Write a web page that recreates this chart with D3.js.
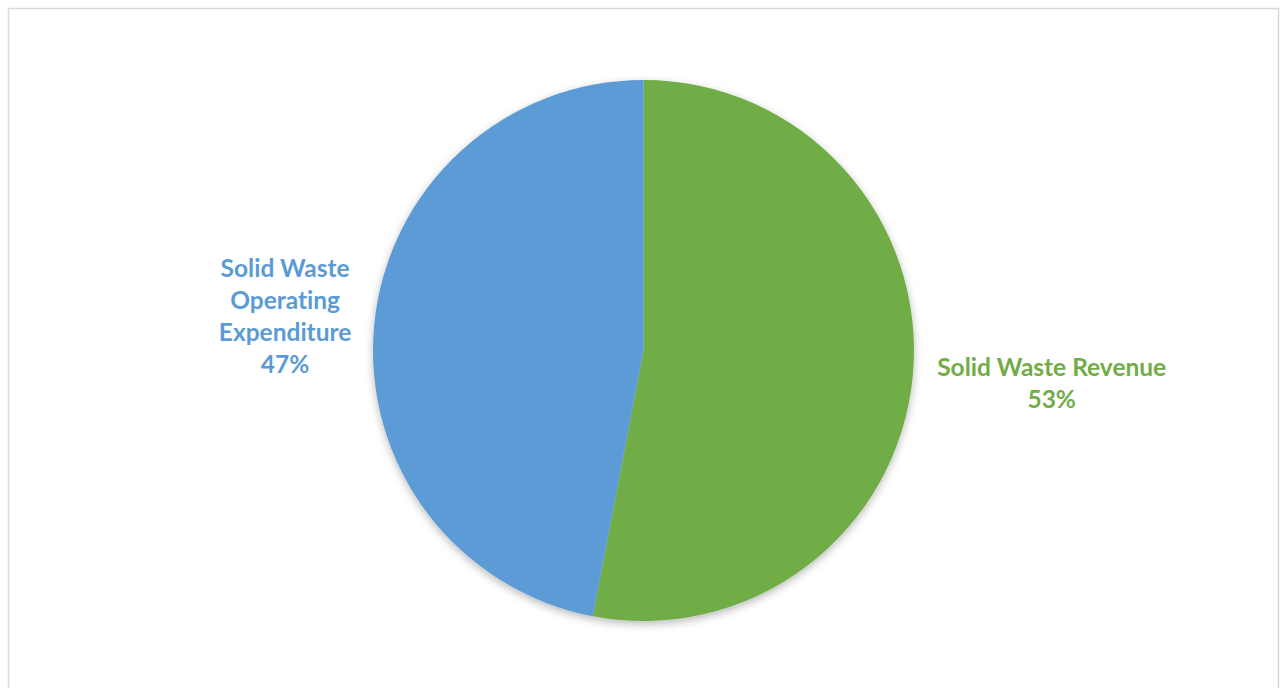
<!DOCTYPE html>
<html>
<head>
<meta charset="utf-8">
<script src="https://cdn.jsdelivr.net/npm/d3@7"></script>
<style>
  html, body { margin: 0; padding: 0; background: #ffffff; }
  svg { display: block; }
  text { font-variant-ligatures: none; font-feature-settings: "liga" 0, "clig" 0; }
</style>
</head>
<body>
<svg id="chart" width="1281" height="688"></svg>
<script>
// Share of solid waste budget
const categories = ["Solid Waste Revenue", "Solid Waste Operating Expenditure"];
const values = [53, 47];
const colors = ["#70AD47", "#5B9BD5"];
// Label lines for each slice (wrapped as in the chart)
const labelLines = [
  ["Solid Waste Revenue", "53%"],
  ["Solid Waste", "Operating", "Expenditure", "47%"]
];

const W = 1281, H = 688;
const svg = d3.select("#chart");

// chart frame
svg.append("rect")
  .attr("x", 8.5).attr("y", 8.5)
  .attr("width", 1270).attr("height", 700)
  .attr("fill", "#ffffff")
  .attr("stroke", "#d9d9d9")
  .attr("stroke-width", 1.5);

const defs = svg.append("defs");
const f = defs.append("filter").attr("id", "pieShadow")
  .attr("x", "-20%").attr("y", "-20%").attr("width", "140%").attr("height", "140%");
f.append("feDropShadow")
  .attr("dx", 0).attr("dy", 3)
  .attr("stdDeviation", 4)
  .attr("flood-color", "#000000")
  .attr("flood-opacity", 0.28);

const cx = 643.5, cy = 350.5, r = 270.5;

const data = categories.map((c, i) => ({ name: c, value: values[i], color: colors[i], lines: labelLines[i] }));

const pie = d3.pie().sort(null).value(d => d.value);
const arc = d3.arc().innerRadius(0).outerRadius(r);
const arcs = pie(data);

const g = svg.append("g").attr("transform", `translate(${cx},${cy})`);
g.append("g").attr("filter", "url(#pieShadow)")
  .selectAll("path")
  .data(arcs)
  .join("path")
  .attr("d", arc)
  .attr("fill", d => d.data.color);

// labels placed outside each slice, along the slice's mid angle
const labelDist = [410, 360];
const labelShiftY = [-6, 0];
const lineH = 32;
const fontStack = "Lato, 'Open Sans', 'Noto Sans', sans-serif";

arcs.forEach((a, i) => {
  const mid = (a.startAngle + a.endAngle) / 2;
  const lx = Math.sin(mid) * labelDist[i];
  const ly = -Math.cos(mid) * labelDist[i] + labelShiftY[i];
  const n = a.data.lines.length;
  const t = g.append("text")
    .attr("text-anchor", "middle")
    .attr("fill", a.data.color)
    .attr("font-family", fontStack)
    .attr("font-weight", 700)
    .attr("font-size", 24.5);
  a.data.lines.forEach((ln, k) => {
    t.append("tspan")
      .attr("x", lx)
      .attr("y", ly + (k - (n - 1) / 2) * lineH)
      .attr("dy", "0.35em")
      .text(ln);
  });
});
</script>
</body>
</html>
